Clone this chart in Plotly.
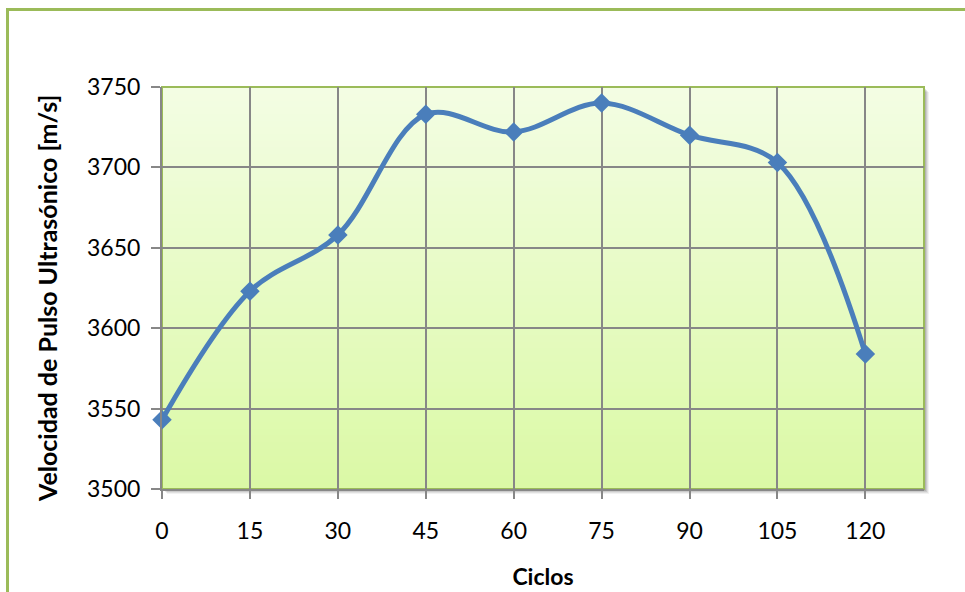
import plotly.graph_objects as go

# Ultrasonic pulse velocity measured after each block of cycles
ciclos = [0, 15, 30, 45, 60, 75, 90, 105, 120]
velocidad = [3543, 3623, 3658, 3733, 3722, 3740, 3720, 3703, 3584]

y_ticks = [3500, 3550, 3600, 3650, 3700, 3750]

# figure geometry (pixels)
W, H = 965, 592
L, R, T, B = 162, 41, 87, 103
PW, PH = W - L - R, H - T - B

GREEN = "#9BBB59"
GRID = "#878787"
BLUE = "#4A7EBB"
FONT = "Lato, 'Open Sans', sans-serif"


def px_x(p):
    return (p - L) / PW


def px_y(p):
    return (H - B - p) / PH


fig = go.Figure()

fig.add_trace(go.Scatter(
    x=ciclos, y=velocidad,
    mode="lines+markers",
    line=dict(color=BLUE, width=5, shape="spline", smoothing=1.0),
    marker=dict(symbol="diamond", size=15, color=BLUE),
    cliponaxis=False,
    showlegend=False,
))

shapes = []

# vertical gradient in the plot area (light top, greener bottom)
top_rgb = (243, 253, 227)
bot_rgb = (219, 249, 166)
n = 60
for i in range(n):
    f = i / (n - 1)
    c = tuple(round(bot_rgb[k] + (top_rgb[k] - bot_rgb[k]) * f) for k in range(3))
    shapes.append(dict(
        type="rect", xref="x domain", yref="y domain",
        x0=0, x1=1, y0=i / n, y1=(i + 1) / n + 0.002,
        fillcolor="rgb(%d,%d,%d)" % c, line=dict(width=0), layer="below",
    ))

# soft shadow along the right and bottom edges of the plot area
for off, a in [(5, 0.05), (4, 0.07), (3, 0.09), (2, 0.11)]:
    # right strip
    shapes.append(dict(
        type="rect", xref="paper", yref="paper",
        x0=px_x(L + PW + 1), x1=px_x(L + PW + off),
        y0=px_y(H - B + off), y1=px_y(T + off),
        fillcolor="rgba(0,0,0,%g)" % a, line=dict(width=0), layer="below",
    ))
    # bottom strip
    shapes.append(dict(
        type="rect", xref="paper", yref="paper",
        x0=px_x(L + off), x1=px_x(L + PW + 1),
        y0=px_y(H - B + off), y1=px_y(H - B + 1),
        fillcolor="rgba(0,0,0,%g)" % a, line=dict(width=0), layer="below",
    ))

# plot-area border (green on top/right)
shapes.append(dict(
    type="rect", xref="paper", yref="paper", x0=0, x1=1, y0=0, y1=1,
    line=dict(color=GREEN, width=2), fillcolor="rgba(0,0,0,0)", layer="below",
))

# chart-area border, extending past the visible page on right/bottom
shapes.append(dict(
    type="rect", xref="paper", yref="paper",
    x0=px_x(7.5), x1=px_x(1010), y0=px_y(640), y1=px_y(9.5),
    line=dict(color=GREEN, width=3), fillcolor="rgba(0,0,0,0)", layer="below",
))

fig.update_layout(
    width=W, height=H,
    margin=dict(l=L, r=R, t=T, b=B, pad=0, autoexpand=False),
    paper_bgcolor="white",
    plot_bgcolor="rgba(0,0,0,0)",
    shapes=shapes,
    font=dict(family=FONT, color="#000000"),
    annotations=[dict(
        text="<b>Velocidad de Pulso Ultrasónico [m/s]</b>",
        xref="paper", yref="paper", x=px_x(47), y=px_y(299),
        xanchor="center", yanchor="middle", textangle=-90,
        showarrow=False, font=dict(size=25, family=FONT),
    )],
)

fig.update_xaxes(
    range=[0, 130], tickmode="array", tickvals=ciclos,
    ticktext=[str(c) for c in ciclos],
    showgrid=True, gridcolor=GRID, gridwidth=1.5,
    showline=True, linecolor=GRID, linewidth=2,
    ticks="outside", ticklen=8, tickcolor=GRID, tickwidth=1.5,
    tickfont=dict(size=23, family=FONT),
    ticklabelstandoff=12,
    zeroline=False, automargin=False,
    title=dict(text="<b>Ciclos</b>", font=dict(size=23, family=FONT), standoff=26),
)

fig.update_yaxes(
    range=[3500, 3750], tickmode="array", tickvals=y_ticks,
    ticktext=[str(v) for v in y_ticks],
    showgrid=True, gridcolor=GRID, gridwidth=1.5,
    showline=True, linecolor=GRID, linewidth=2,
    ticks="outside", ticklen=9, tickcolor=GRID, tickwidth=1.5,
    tickfont=dict(size=23, family=FONT),
    ticklabelstandoff=6,
    zeroline=False, automargin=False,
)

fig.write_html("out.html")
